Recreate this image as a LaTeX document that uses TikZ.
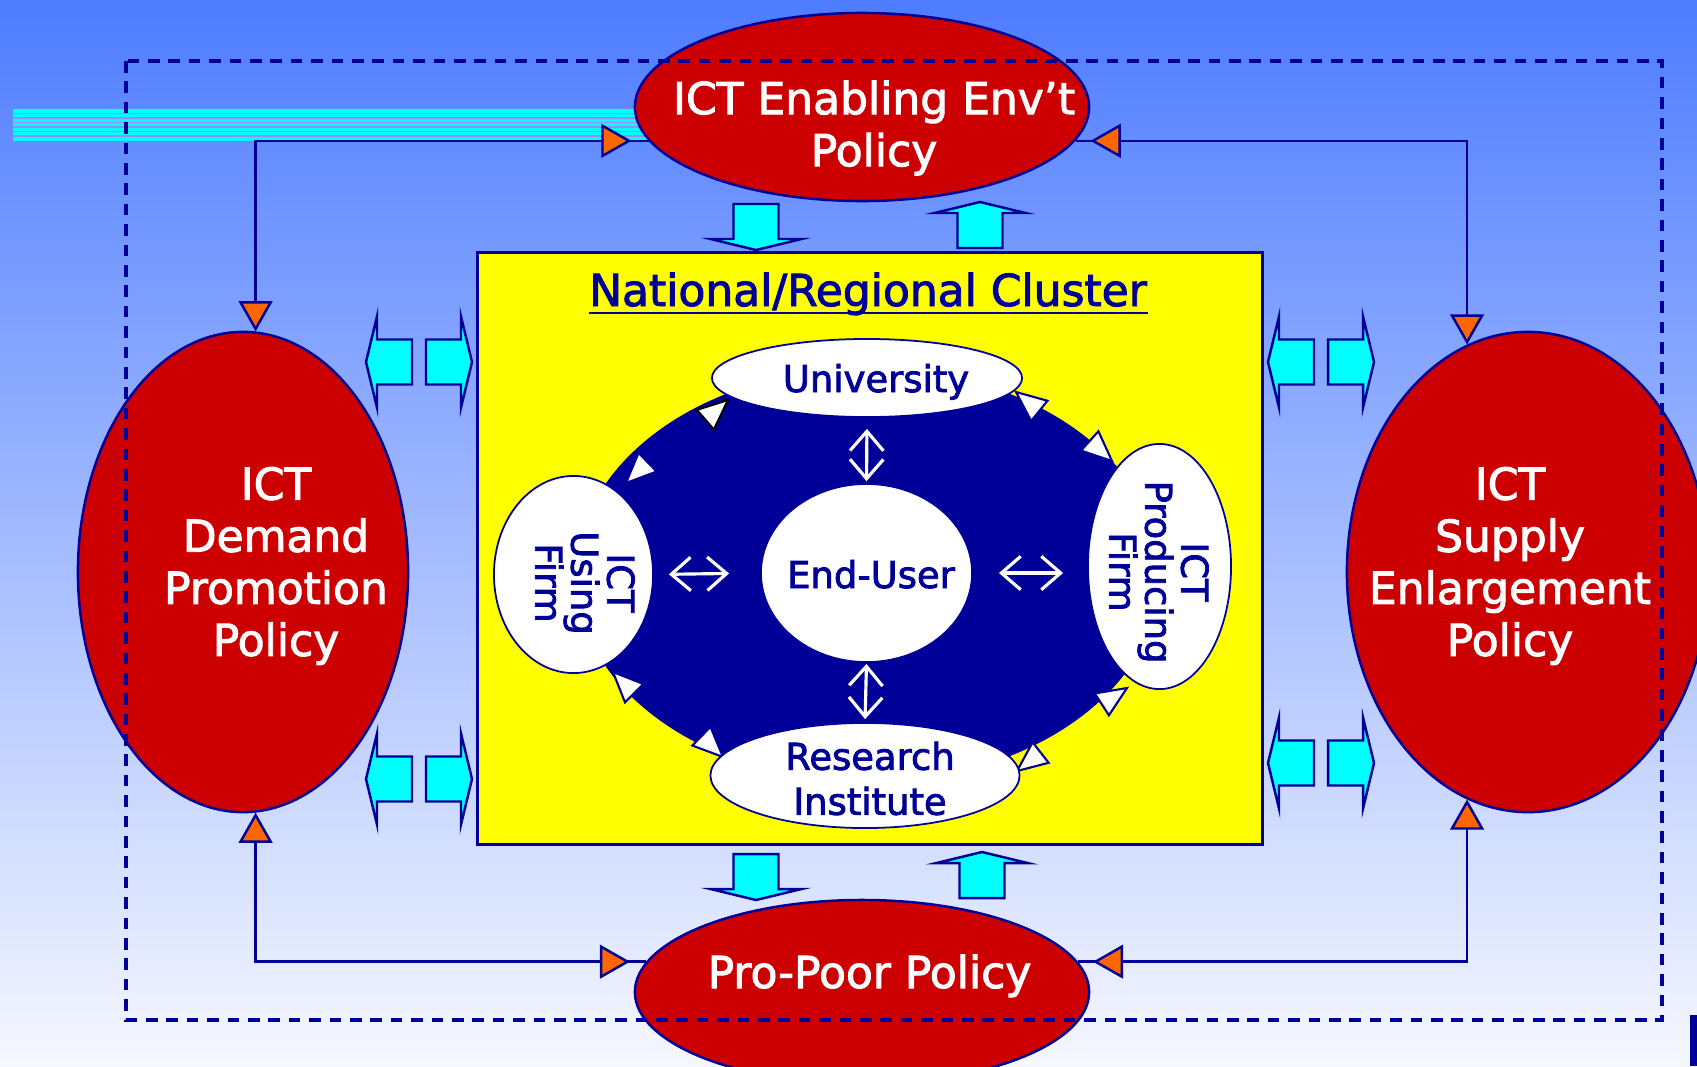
\documentclass[tikz,border=0pt]{standalone}
\usepackage{fontspec}
\newfontfamily\dvs{DejaVu Sans}[FakeBold=2.2]
\usetikzlibrary{arrows.meta,shapes.geometric}
\definecolor{navy}{RGB}{0,0,153}
\definecolor{redp}{RGB}{204,0,0}
\definecolor{orng}{RGB}{255,102,0}
\definecolor{cyn}{RGB}{0,255,255}
\definecolor{ylw}{RGB}{255,255,0}
\definecolor{bgtop}{RGB}{77,124,255}
\definecolor{bgbot}{RGB}{246,248,255}
\definecolor{stripec}{RGB}{150,140,255}
\tikzset{
 policy/.style={ellipse, draw=navy, fill=redp, line width=0.7pt, inner sep=0pt},
 ptext/.style={text=white, align=center, inner sep=0pt, font={\dvs\fontsize{12.5}{14.8}\selectfont}},
 wnode/.style={ellipse, draw=navy, fill=white, line width=0.5pt, inner sep=0pt},
 wtext/.style={text=navy, align=center, inner sep=0pt, font={\dvs\fontsize{10.5}{12.8}\selectfont}},
 rtext/.style={text=navy, align=center, inner sep=0pt, rotate=-90, font={\dvs\fontsize{10.5}{10.24}\selectfont\lineskiplimit=-100pt}},
 conn/.style={draw=navy, line width=0.7pt, {Triangle[length=8.6pt,width=9.6pt,fill=orng]}-{Triangle[length=8.6pt,width=9.6pt,fill=orng]}},
 connline/.style={draw=navy, line width=0.7pt},
 dbl/.style={draw=white, line width=0.9pt, {Straight Barb[length=5.5pt,width=9.5pt]}-{Straight Barb[length=5.5pt,width=9.5pt]}},
 blk/.style={fill=cyn, draw=navy, line width=0.7pt, line join=miter},
 rtri/.style={fill=white, draw=navy, line width=0.6pt, line join=miter},
}
\newcommand{\blkarw}[3]{\draw[blk, shift={(#1,#2)}, rotate=#3] (0,0) -- (-11,45.5) -- (-11,22.5) -- (-46,22.5) -- (-46,-22.5) -- (-11,-22.5) -- (-11,-45.5) -- cycle;}
\newcommand{\ringtri}[4][navy]{\draw[rtri, draw=#1, shift={(#2,#3)}, rotate=#4] (0,0) -- (-30,13) -- (-30,-13) -- cycle;}
\begin{document}
\begin{tikzpicture}[x=0.01cm, y=-0.01cm]
\useasboundingbox (0,0) rectangle (1697,1066);
\clip (0,0) rectangle (1697,1066);
\shade[top color=bgtop, bottom color=bgbot] (0,0) rectangle (1697,1066);
% striped bar
\fill[cyn] (13,109) rectangle (680,141);
\foreach \yy in {113.5,118,122.5,127,131.5,136} \draw[stripec, line width=0.3pt] (13,\yy) -- (680,\yy);
% cluster
\node[draw=navy, fill=ylw, line width=0.8pt, minimum width=7.84cm, minimum height=5.91cm, inner sep=0pt] (cluster) at (870,548.5) {};
\node[text=navy, anchor=base, inner sep=0pt, font={\dvs\fontsize{12.5}{14.8}\selectfont}] (title) at (868,306) {National/Regional Cluster};
\draw[navy, line width=0.8pt] ([yshift=-0.07cm]title.base west) -- ([yshift=-0.07cm]title.base east);
\node[ellipse, fill=navy, minimum width=5.84cm, minimum height=4.14cm, inner sep=0pt] (ring) at (868,575) {};
\ringtri[black]{728}{400}{41}
\ringtri{626}{483}{224}
\ringtri{1016}{392}{141}
\ringtri{1112}{461}{-42}
\ringtri{613}{672}{135}
\ringtri{723}{757}{-44}
\ringtri{1017}{771}{218}
\ringtri{1127}{688}{33}
\node[wnode, minimum width=3.10cm, minimum height=0.78cm] (uni) at (867,378) {};
\node[wnode, minimum width=2.11cm, minimum height=1.78cm] (endu) at (866.5,573) {};
\node[wnode, minimum width=1.59cm, minimum height=1.97cm] (using) at (573.5,574.5) {};
\node[wnode, minimum width=1.43cm, minimum height=2.45cm] (prod) at (1159.5,566.5) {};
\node[wnode, minimum width=3.09cm, minimum height=1.05cm] (res) at (865,775.5) {};
\node[wtext, anchor=base] (uniT) at (876,392) {University};
\node[wtext, anchor=base] (enduT) at (871,588) {End-User};
\node[wtext] (resT) at (870,778.5) {Research\\Institute};
\node[rtext] (usingT) at (585,583) {ICT\\Using\\Firm};
\node[rtext] (prodT) at (1159,572) {ICT\\Producing\\Firm};
\draw[dbl, shorten <=0.11cm, shorten >=0.02cm] (uni.south) -- (endu.north);
\draw[dbl, shorten <=0.01cm, shorten >=0.03cm] (endu.south) -- (res.north);
\draw[dbl, shorten <=0.15cm, shorten >=0.31cm] (using.east) -- (endu.west);
\draw[dbl, shorten <=0.26cm, shorten >=0.24cm] (endu.east) -- (endu.east -| prod.west);
% block arrows
\blkarw{756}{250}{-90}
\blkarw{980}{202}{90}
\blkarw{756}{900}{-90}
\blkarw{982}{852}{90}
\blkarw{366}{362}{180}
\blkarw{472}{362}{0}
\blkarw{366}{779}{180}
\blkarw{472}{779}{0}
\blkarw{1268}{362}{180}
\blkarw{1374}{362}{0}
\blkarw{1268}{763}{180}
\blkarw{1374}{763}{0}
% policy ellipses
\node[policy, minimum width=4.54cm, minimum height=1.88cm] (env) at (862,107) {};
\node[policy, minimum width=4.54cm, minimum height=1.84cm] (poor) at (862,992) {};
\node[policy, minimum width=3.30cm, minimum height=4.80cm] (dem) at (243,572) {};
\node[policy, minimum width=3.62cm, minimum height=4.80cm] (sup) at (1528,572) {};
\node[ptext] (envT) at (874,128) {ICT Enabling Env’t\\Policy};
\node[ptext] (demT) at (276,566) {ICT\\Demand\\Promotion\\Policy};
\node[ptext] (supT) at (1510,566) {ICT\\Supply\\Enlargement\\Policy};
\node[ptext, anchor=base] (poorT) at (869.5,988) {Pro-Poor Policy};
% connectors
\draw[conn, shorten >=0.17cm] (dem.87) |- (env.189);
\draw[conn, shorten >=0.15cm] (sup.105) |- (env.351);
\draw[conn, shorten >=0.16cm] (dem.273) |- (poor.172);
\draw[conn, shorten >=0.15cm] (sup.255) |- (poor.8);
\draw[connline] (env.189) -- ++(-20,0);
\draw[connline] (env.351) -- ++(20,0);
\draw[connline] (poor.172) -- ++(-20,0);
\draw[connline] (poor.8) -- ++(20,0);
% dashed frame
\draw[navy, line width=1pt, dash pattern=on 3.3pt off 2.5pt] (126,61) rectangle (1662,1020);
\fill[navy] (1690,1015) rectangle (1697,1066);
\end{tikzpicture}
\end{document}
